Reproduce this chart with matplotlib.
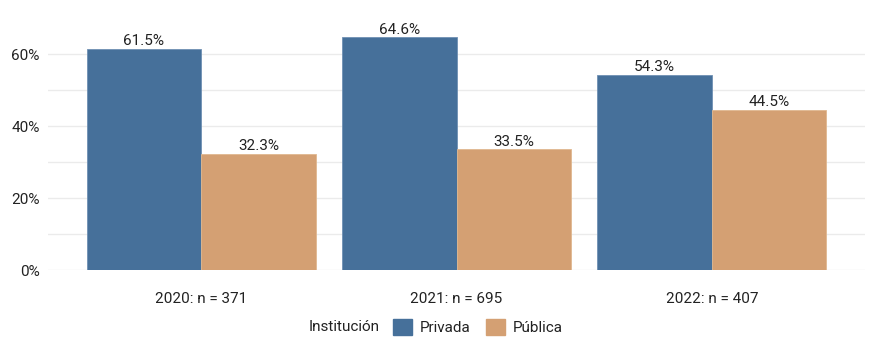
import matplotlib
matplotlib.use("Agg")
import matplotlib.pyplot as plt
import numpy as np
from matplotlib.patches import Patch

categories = ["2020: n = 371", "2021: n = 695", "2022: n = 407"]
privada = [61.5, 64.6, 54.3]
publica = [32.3, 33.5, 44.5]
series_names = ["Privada", "Pública"]
yticks = [0, 20, 40, 60]
ytick_labels = ["0%", "20%", "40%", "60%"]

plt.rcParams['font.family'] = ['Roboto', 'DejaVu Sans']

c_priv = "#46709A"
c_pub = "#D4A073"

fig = plt.figure(figsize=(8.84, 3.42), dpi=100)
ax = fig.add_axes([48/884, 1 - 270/342, (865-48)/884, (270-20)/342])

x = np.arange(len(categories))
w = 0.448
b1 = ax.bar(x - w/2, privada, w, color=c_priv, edgecolor="#6f90b3", linewidth=0.6, zorder=3)
b2 = ax.bar(x + w/2, publica, w, color=c_pub, edgecolor="#e0b890", linewidth=0.6, zorder=3)

for rect, v in zip(list(b1) + list(b2), privada + publica):
    ax.text(rect.get_x() + rect.get_width()/2, v + 0.2, f"{v:.1f}%", ha="center", va="bottom",
            fontsize=11, color="#222222", zorder=4)

ax.set_xlim(-0.6, 2.6)
ax.set_ylim(0, 250/72*20)
ax.set_yticks(yticks)
ax.set_yticklabels(ytick_labels)
ax.set_yticks([10, 30, 50], minor=True)
ax.set_xticks(x)
ax.set_xticklabels(categories)
ax.grid(axis="y", which="both", color="#ebebeb", linewidth=1, zorder=0)
ax.tick_params(axis="both", which="both", length=0, labelsize=11, colors="#222222")
ax.tick_params(axis="x", pad=16)
ax.tick_params(axis="y", pad=6)
for s in ax.spines.values():
    s.set_visible(False)

handles = [Patch(color=c_priv), Patch(color=c_pub)]
leg = fig.legend(handles, series_names, loc="center", bbox_to_anchor=(478/884, 1 - 327/342),
                 ncol=2, frameon=False, fontsize=11, handlelength=1.25, handleheight=1.25,
                 columnspacing=1.0, handletextpad=0.5, borderpad=0, borderaxespad=0)
for t in leg.get_texts():
    t.set_color("#222222")
fig.text(380/884, 1 - 327/342, "Institución", ha="right", va="center", fontsize=11, color="#222222")

fig.savefig("out.png", dpi=100, facecolor="white")
